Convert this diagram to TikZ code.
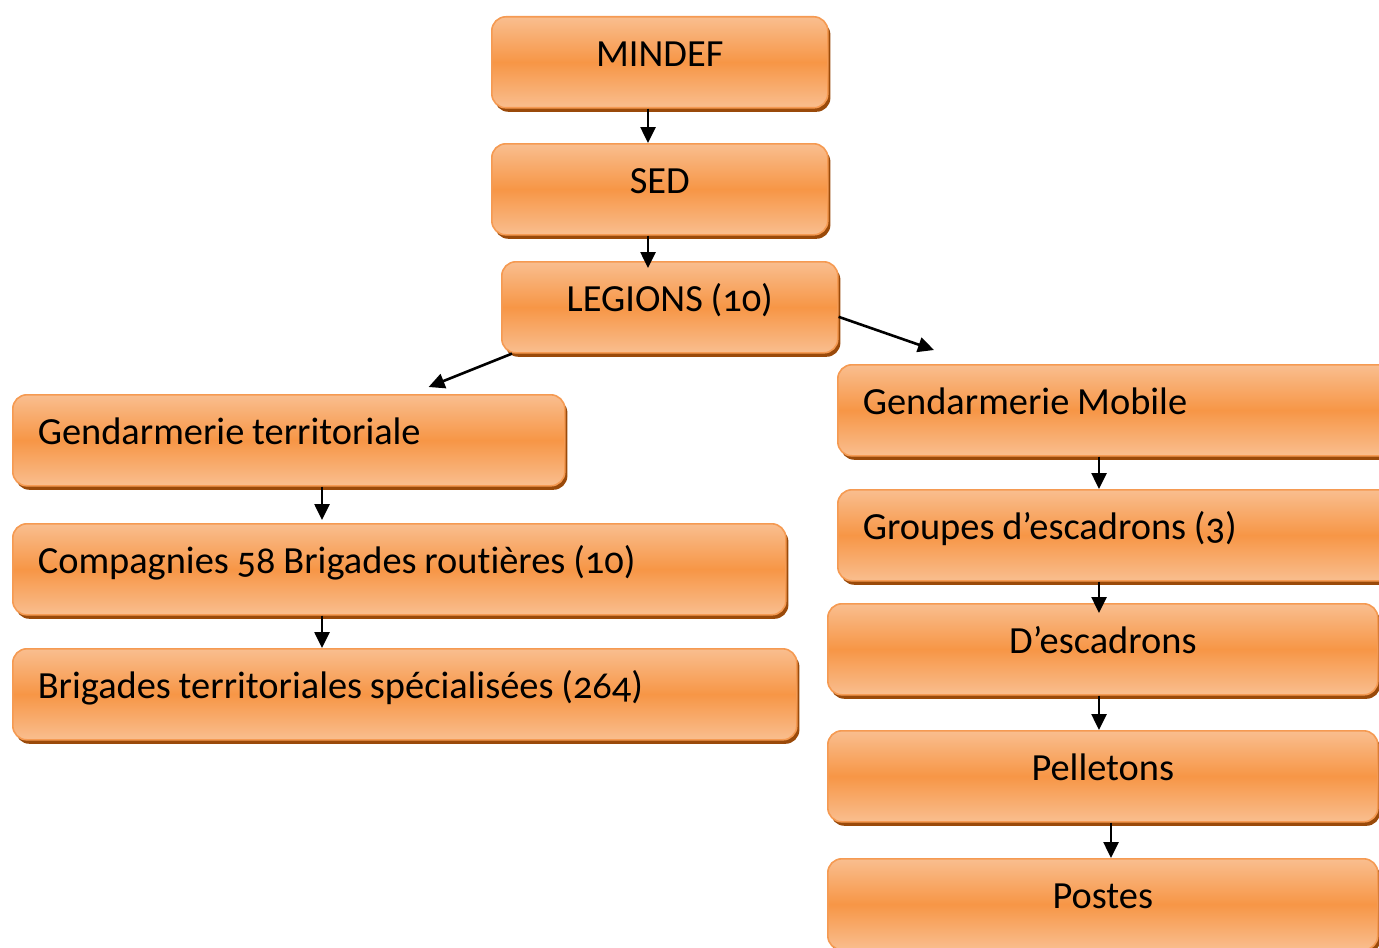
\documentclass[tikz,border=0pt]{standalone}
\usepackage{fontspec}
\setmainfont{Carlito}[Numbers=OldStyle, WordSpace=0.9, Ligatures=NoCommon]
\usepackage{xcolor}
\usetikzlibrary{arrows.meta, shadows}
\definecolor{boxlight}{HTML}{F9BE8F}
\definecolor{boxmid}{HTML}{F79646}
\definecolor{boxline}{HTML}{F59A52}
\definecolor{boxshade}{HTML}{9A4A0A}
\tikzset{
    orgbox/.style={draw=boxline, line width=0.8pt, rounded corners=7pt, anchor=north west,
        top color=boxlight, bottom color=boxlight, middle color=boxmid,
        drop shadow={shadow xshift=1.3pt, shadow yshift=-2pt, fill=boxshade, opacity=1},
        minimum height=45.5pt, text height=13.3pt, text depth=9pt,
        font=\fontsize{19.2}{21}\selectfont},
    leftbox/.style={orgbox, align=flush left, inner xsep=12.5pt},
    link/.style={->, >={Triangle[length=8pt, width=7.5pt]}, line width=1.3pt}
}
\begin{document}
\begin{tikzpicture}[x=0.5pt, y=-0.5pt]
        \useasboundingbox (0,0) rectangle (1379,947);
        \clip (0,0) rectangle (1379,947);
        % top of the chart
        \node[orgbox, minimum width=168pt] (mindef) at (491,16) {MINDEF};
        \node[orgbox, minimum width=168pt] (sed) at (491,143) {SED};
        \node[orgbox, minimum width=168pt] (legions) at (501,261) {LEGIONS (10)};
        % left branch
        \node[leftbox, text width=251pt] (gter) at (12,394) {Gendarmerie territoriale};
        \node[leftbox, text width=361.5pt] (comp) at (12,523) {Compagnies 58 Brigades routières (10)};
        \node[leftbox, text width=367pt] (brig) at (12,648) {Brigades territoriales spécialisées (264)};
        % right branch
        \node[leftbox, text width=255pt] (gmob) at (837,364) {Gendarmerie Mobile};
        \node[leftbox, text width=255pt] (grp) at (837,489) {Groupes d’escadrons (3)};
        \node[orgbox, minimum width=275pt] (esc) at (827,603) {D’escadrons};
        \node[orgbox, minimum width=275pt] (pel) at (827,730) {Pelletons};
        \node[orgbox, minimum width=275pt] (pos) at (827,858) {Postes};

        \coordinate (mx) at (648,0);
        \coordinate (lx) at (322,0);
        \coordinate (rx) at (1099,0);
        \coordinate (px) at (1111,0);

        \draw[link] (mindef.south -| mx) -- (sed.north -| mx);
        \draw[link] (sed.south -| mx) -- ([yshift=-3.5pt]legions.north -| mx);
        \draw[link] ([xshift=5.5pt]legions.south west) -- ([xshift=-68.5pt, yshift=3.5pt]gter.north east);
        \draw[link] ([yshift=-4.75pt]legions.east) -- ([xshift=48.5pt, yshift=7pt]gmob.north west);
        \draw[link] (gter.south -| lx) -- ([yshift=1.5pt]comp.north -| lx);
        \draw[link] (comp.south -| lx) -- (brig.north -| lx);
        \draw[link] (gmob.south -| rx) -- (grp.north -| rx);
        \draw[link] (grp.south -| rx) -- ([yshift=-5pt]esc.north -| rx);
        \draw[link] (esc.south -| rx) -- (pel.north -| rx);
        \draw[link] (pel.south -| px) -- (pos.north -| px);
    \end{tikzpicture}
\end{document}
